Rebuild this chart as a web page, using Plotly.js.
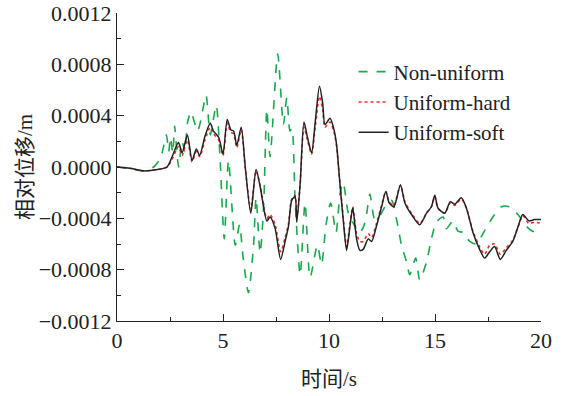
<!DOCTYPE html>
<html>
<head>
<meta charset="utf-8">
<script src="https://cdn.plot.ly/plotly-3.0.1.min.js"></script>
<style>html,body{margin:0;padding:0;background:#fff;}#chart{width:564px;height:396px;}</style>
</head>
<body>
<div id="chart"></div>
<script>
// Non-uniform (green dashed)
const tNon = [0,0.6,1.18,1.73,2.05,2.17,2.33,2.44,2.52,2.63,2.72,2.83,2.91,3.07,3.2,3.33,3.49,3.65,3.8,3.95,4.2,4.4,4.68,4.85,5.06,5.26,5.58,5.78,5.94,6.2,6.44,6.56,6.75,6.91,7.07,7.22,7.58,7.85,8.01,8.16,8.25,8.4,8.64,8.87,9.11,9.45,9.65,9.86,10.08,10.33,10.52,10.67,10.91,11.18,11.38,11.62,11.77,11.93,12.16,12.4,12.64,12.95,13.19,13.42,13.66,13.81,14.09,14.28,14.6,14.83,15.07,15.38,15.54,15.85,16.08,16.32,16.64,16.95,17.26,17.73,18.13,18.52,18.91,19.3,19.6,20];
const vNon = [0,-0.00001,-0.00003,0,0.00007,0.00014,0.00025,0.00012,0.00023,0.00011,0.00032,0.0001,0.0,0.0002,0.00012,0.00035,0.00043,0.00035,0.00028,0.00036,0.00056,0.00025,0.00048,0.0001,-0.00056,0.00005,-0.00061,-0.00045,-0.00069,-0.00098,-0.00061,-0.00024,-0.00067,-0.00033,0.00045,0.00008,0.00088,0.00033,0.00054,0.00028,0.0003,-0.00025,-0.00084,-0.00028,-0.00086,-0.00061,-0.00076,-0.00045,-0.00028,-0.00051,-0.00021,-0.00012,-0.00036,-0.00045,-0.00052,-0.00047,-0.00037,-0.00021,-0.00041,-0.00038,-0.00031,-0.00026,-0.00041,-0.00061,-0.00074,-0.00084,-0.00071,-0.00088,-0.00074,-0.00056,-0.00043,-0.00039,-0.00048,-0.00042,-0.0005,-0.00051,-0.00058,-0.0006,-0.00052,-0.00039,-0.00031,-0.00031,-0.00037,-0.00046,-0.0005,-0.0005];

// Uniform-soft (black solid)
const tSoft = [0,0.6,1.25,1.9,2.36,2.6,2.9,3.07,3.32,3.54,3.74,3.9,4.15,4.4,4.55,4.8,5.0,5.2,5.37,5.5,5.65,5.86,6.05,6.31,6.56,6.75,7.07,7.22,7.46,7.72,7.93,8.09,8.24,8.4,8.48,8.64,8.82,9.0,9.18,9.35,9.55,9.7,9.81,10.05,10.25,10.36,10.49,10.67,10.83,10.99,11.12,11.3,11.46,11.62,11.85,12.01,12.24,12.48,12.68,12.84,13.06,13.37,13.58,13.89,14.28,14.6,14.83,14.99,15.14,15.46,15.72,15.93,16.24,16.48,16.79,17.1,17.34,17.58,17.81,18.08,18.36,18.67,18.91,19.14,19.43,19.69,20];
const vSoft = [0,-0.00001,-0.00003,-0.00002,0,0.00008,0.00019,0.00011,0.00025,0.00005,0.00014,0.00009,0.00024,0.00034,0.00028,0.00023,0.0001,0.00037,0.00029,0.00028,0.00017,0.00031,0.0,-0.00036,-0.00002,-0.00015,-0.00042,-0.00039,-0.00048,-0.00072,-0.00058,-0.00046,-0.00026,-0.00023,-0.00043,-0.00013,0.00035,0.00022,0.00011,0.00035,0.00063,0.0005,0.00033,0.00038,0.00028,0.00017,-0.00008,-0.00041,-0.00065,-0.00046,-0.00032,-0.00056,-0.00065,-0.00064,-0.00056,-0.00058,-0.00046,-0.00031,-0.00019,-0.00028,-0.00031,-0.00014,-0.00028,-0.00037,-0.00045,-0.00036,-0.00031,-0.00022,-0.00032,-0.00036,-0.00027,-0.00029,-0.00024,-0.00032,-0.00051,-0.00064,-0.00071,-0.00066,-0.00062,-0.00072,-0.00065,-0.00058,-0.00047,-0.00037,-0.00042,-0.00041,-0.00041];

// Uniform-hard (red dotted)
const tHard = [0,0.6,1.25,1.9,2.36,2.6,2.9,3.07,3.32,3.54,3.74,3.9,4.15,4.4,4.55,4.8,5.0,5.2,5.37,5.5,5.65,5.86,6.05,6.31,6.56,6.75,7.07,7.22,7.46,7.72,7.93,8.09,8.24,8.4,8.48,8.64,8.82,9.0,9.18,9.35,9.55,9.7,9.81,10.05,10.25,10.36,10.49,10.67,10.83,10.99,11.12,11.3,11.46,11.62,11.85,12.01,12.24,12.48,12.68,12.84,13.06,13.37,13.58,13.89,14.28,14.6,14.83,14.99,15.14,15.46,15.72,15.93,16.24,16.48,16.79,17.1,17.34,17.58,17.81,18.08,18.36,18.67,18.91,19.14,19.43,19.69,20];
const vHard = [0,-0.00001,-0.00003,-0.00002,0,0.00006,0.00016,0.00009,0.00021,0.00004,0.00012,0.00008,0.00021,0.00031,0.00026,0.00021,0.00009,0.00034,0.00027,0.00026,0.00015,0.00029,-0.00001,-0.00033,-0.00003,-0.00014,-0.0004,-0.00037,-0.00045,-0.00066,-0.00055,-0.00044,-0.00025,-0.00022,-0.0004,-0.00013,0.00031,0.0002,0.0001,0.00031,0.00055,0.00045,0.00031,0.00035,0.00026,0.00016,-0.00008,-0.00039,-0.00062,-0.00044,-0.00031,-0.00052,-0.00058,-0.00058,-0.00052,-0.00055,-0.00044,-0.0003,-0.00019,-0.00027,-0.0003,-0.00014,-0.00027,-0.00036,-0.00044,-0.00036,-0.00031,-0.00023,-0.00032,-0.00036,-0.00028,-0.0003,-0.00025,-0.00032,-0.0005,-0.00062,-0.00068,-0.00061,-0.0006,-0.00068,-0.00063,-0.00057,-0.00047,-0.00038,-0.00044,-0.00043,-0.00044];

const serif = "'Liberation Serif', 'Times New Roman', 'Noto Sans CJK SC', serif";
const traces = [
  {x:tNon, y:vNon, name:'Non-uniform', mode:'lines', line:{color:'#1aa84e', width:1.6, dash:'dash', shape:'spline', smoothing:0.7}},
  {x:tHard, y:vHard, name:'Uniform-hard', mode:'lines', line:{color:'#e8302a', width:1.6, dash:'dot', shape:'spline', smoothing:0.7}},
  {x:tSoft, y:vSoft, name:'Uniform-soft', mode:'lines', line:{color:'#222222', width:1.5, shape:'spline', smoothing:0.7}}
];
const layout = {
  width:564, height:396,
  margin:{l:117, r:23, t:13, b:75},
  paper_bgcolor:'#fff', plot_bgcolor:'#fff',
  font:{family:serif, size:22, color:'#222'},
  showlegend:true,
  legend:{x:0.558, y:0.875, xanchor:'left', yanchor:'top', bgcolor:'rgba(0,0,0,0)', font:{family:serif, size:21, color:'#222'}, tracegroupgap:0},
  xaxis:{range:[0,20], dtick:5, tick0:0, showgrid:false, zeroline:false, showline:true, linecolor:'#222', linewidth:1,
    ticks:'inside', ticklen:7, tickcolor:'#222', tickfont:{family:serif, size:22, color:'#222'}, ticklabeloverflow:'allow',
    minor:{dtick:2.5, ticks:'inside', ticklen:4, tickcolor:'#222'},
    title:{text:'时间/s', font:{family:serif, size:21, color:'#222'}, standoff:18}},
  yaxis:{range:[-0.0012000001,0.0012000001], dtick:0.0004, tick0:0, tickformat:'.4f', showgrid:false, zeroline:false, showline:true, linecolor:'#222', linewidth:1,
    ticks:'inside', ticklen:7, tickcolor:'#222', tickfont:{family:serif, size:22, color:'#222'}, ticklabeloverflow:'allow',
    minor:{dtick:0.0002, ticks:'inside', ticklen:4, tickcolor:'#222'},
    title:{text:'相对位移/m', font:{family:serif, size:21, color:'#222'}, standoff:0}}
};
Plotly.newPlot('chart', traces, layout, {displayModeBar:false, staticPlot:true});
</script>
</body>
</html>
